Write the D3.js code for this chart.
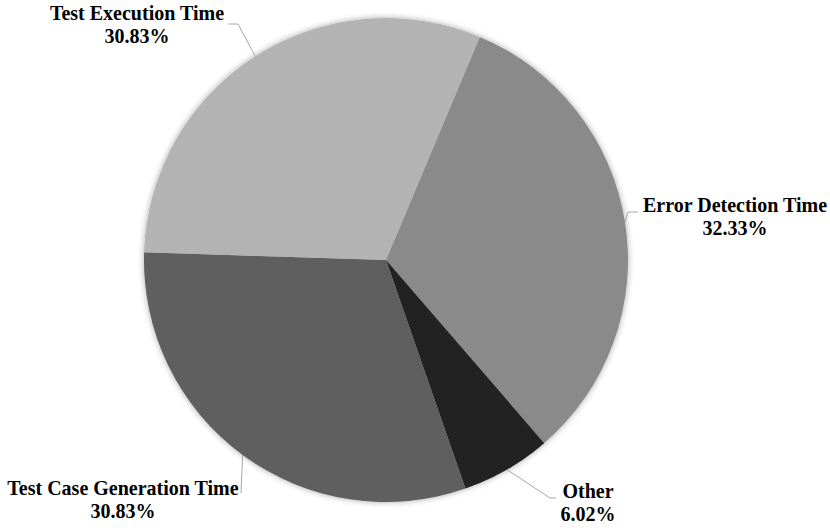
<!DOCTYPE html>
<html>
<head>
<meta charset="utf-8">
<script src="https://cdn.jsdelivr.net/npm/d3@7"></script>
<style>
  body { margin: 0; background: #fff; }
</style>
</head>
<body>
<svg id="chart"></svg>
<script>
let categories = ["Error Detection Time", "Other", "Test Case Generation Time", "Test Execution Time"]
let values = [32.33, 6.02, 30.83, 30.83]
let valueLabels = ["32.33%", "6.02%", "30.83%", "30.83%"]
let colors = ["#8a8a8a", "#222222", "#5e5e5e", "#b3b3b3"]

// label spots (center x, first baseline) and leader bends
let labelPos = [
    {x: 735, y: 212, bend: [[628, 212], [638, 212]]},
    {x: 588, y: 498, bend: [[550, 498], [556, 498]]},
    {x: 123, y: 495, bend: [[241, 493]]},
    {x: 137, y: 20, bend: [[238, 24], [228, 24]]}
]

let width = 830, height = 532
let cx = 386, cy = 260, radius = 242
let startAngle = 22.8 * Math.PI / 180

let svg = d3.select("#chart")
            .attr("width", width)
            .attr("height", height)

let defs = svg.append("defs")
let filter = defs.append("filter").attr("id", "glow")
                 .attr("x", "-10%").attr("y", "-10%")
                 .attr("width", "120%").attr("height", "120%")
filter.append("feDropShadow")
      .attr("dx", 0).attr("dy", 0)
      .attr("stdDeviation", 3)
      .attr("flood-color", "#000")
      .attr("flood-opacity", 0.35)

let pie = d3.pie().sort(null)
            .startAngle(startAngle)
            .endAngle(startAngle + 2 * Math.PI)
let arcs = pie(values)

let arc = d3.arc().innerRadius(0).outerRadius(radius)

let g = svg.append("g").attr("transform", `translate(${cx},${cy})`)

g.append("g").attr("filter", "url(#glow)")
 .selectAll("path")
 .data(arcs)
 .enter()
 .append("path")
 .attr("d", arc)
 .attr("fill", (d, i) => colors[i])

// leader lines: from slice mid edge to label
let edgePoint = (d) => {
    let a = (d.startAngle + d.endAngle) / 2
    return [cx + radius * Math.sin(a), cy - radius * Math.cos(a)]
}

svg.selectAll(".leader")
   .data(arcs)
   .enter()
   .append("polyline")
   .attr("class", "leader")
   .attr("points", (d, i) => [edgePoint(d)].concat(labelPos[i].bend).map(p => p.join(",")).join(" "))
   .attr("fill", "none")
   .attr("stroke", "#a6a6a6")
   .attr("stroke-width", 1)

let labels = svg.selectAll(".label")
   .data(arcs)
   .enter()
   .append("text")
   .attr("class", "label")
   .attr("text-anchor", "middle")
   .attr("font-family", "'Liberation Serif', Tinos, 'DejaVu Serif', serif")
   .attr("font-weight", "bold")
   .attr("font-size", "20px")
   .attr("fill", "#000")

labels.append("tspan")
      .attr("x", (d, i) => labelPos[i].x)
      .attr("y", (d, i) => labelPos[i].y)
      .text((d, i) => categories[i])
labels.append("tspan")
      .attr("x", (d, i) => labelPos[i].x)
      .attr("y", (d, i) => labelPos[i].y + 23)
      .text((d, i) => valueLabels[i])
</script>
</body>
</html>
